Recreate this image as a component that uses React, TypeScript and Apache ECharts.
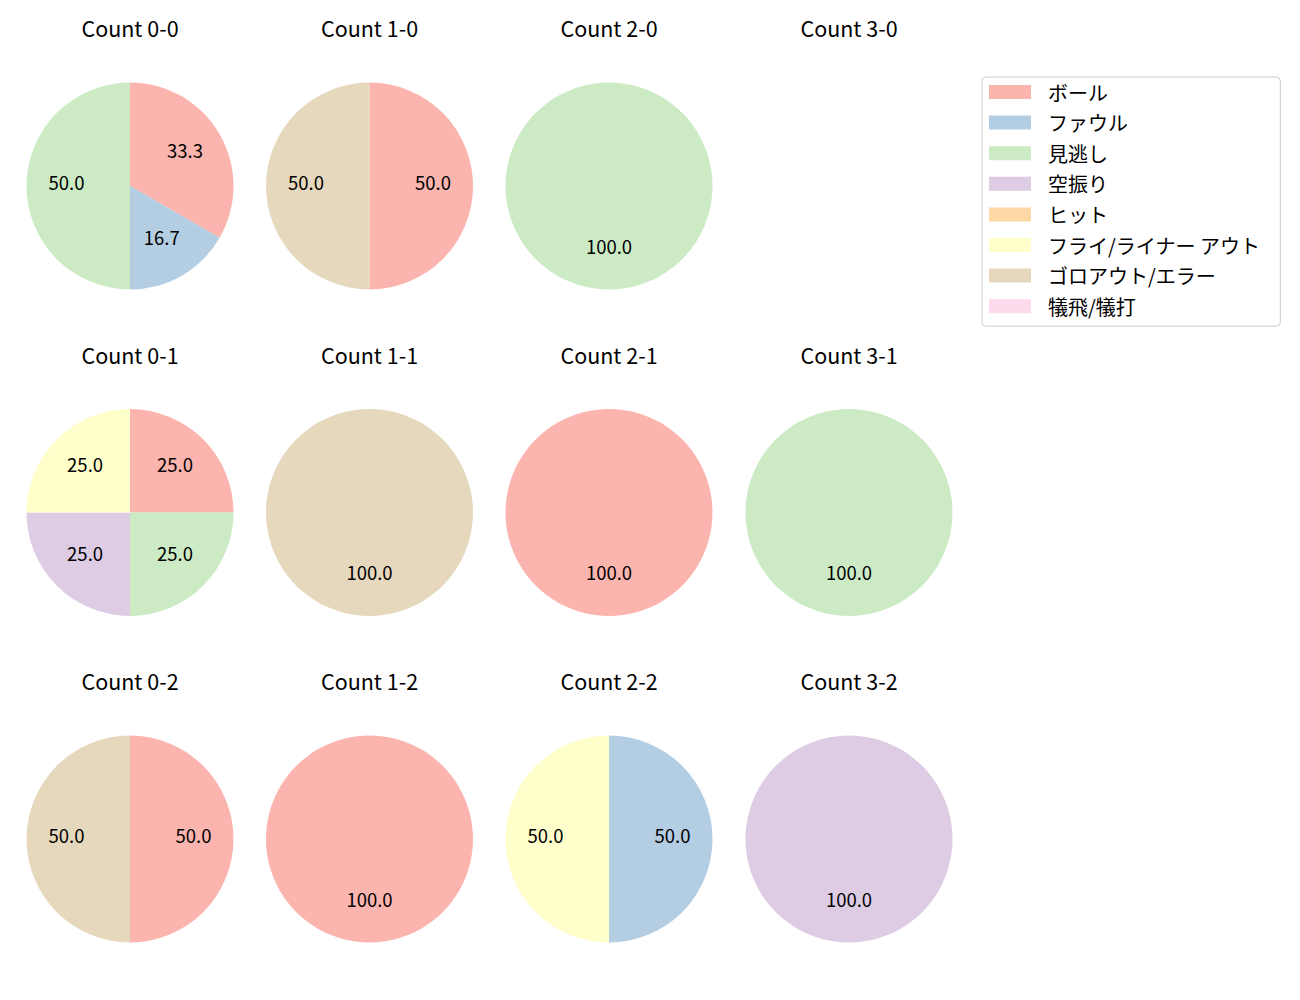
import React, { useEffect, useRef } from "react";
import * as echarts from "echarts";

const categories = [
  "ボール",
  "ファウル",
  "見逃し",
  "空振り",
  "ヒット",
  "フライ/ライナー アウト",
  "ゴロアウト/エラー",
  "犠飛/犠打",
];
const colors = ["#fbb4ae", "#b3cde3", "#ccebc5", "#decbe4", "#fed9a6", "#ffffcc", "#e5d8bd", "#fddaec"];

const titles = [
  "Count 0-0", "Count 1-0", "Count 2-0", "Count 3-0",
  "Count 0-1", "Count 1-1", "Count 2-1", "Count 3-1",
  "Count 0-2", "Count 1-2", "Count 2-2", "Count 3-2",
];

// counts per category, same order as categories
const count00 = [2, 1, 3, 0, 0, 0, 0, 0];
const count10 = [1, 0, 0, 0, 0, 0, 1, 0];
const count20 = [0, 0, 1, 0, 0, 0, 0, 0];
const count30 = [0, 0, 0, 0, 0, 0, 0, 0];
const count01 = [1, 0, 1, 1, 0, 1, 0, 0];
const count11 = [0, 0, 0, 0, 0, 0, 1, 0];
const count21 = [1, 0, 0, 0, 0, 0, 0, 0];
const count31 = [0, 0, 1, 0, 0, 0, 0, 0];
const count02 = [1, 0, 0, 0, 0, 0, 1, 0];
const count12 = [1, 0, 0, 0, 0, 0, 0, 0];
const count22 = [0, 1, 0, 0, 0, 1, 0, 0];
const count32 = [0, 0, 0, 1, 0, 0, 0, 0];

const allCounts = [
  count00, count10, count20, count30,
  count01, count11, count21, count31,
  count02, count12, count22, count32,
];

const FONT = "'Noto Sans CJK JP', 'Noto Sans', sans-serif";
const colX = [130, 369.5, 609, 849];
const rowY = [186, 512.5, 839];
const R = 103.5;
const LABEL_SHIFT = 4;

export default function App() {
  const ref = useRef<HTMLDivElement>(null);
  useEffect(() => {
    document.body.style.margin = "0";
    if (!ref.current) return;
    const chart = echarts.init(ref.current, undefined, { renderer: "svg" });

    const series: any[] = [];
    // dummy series for legend (all categories)
    series.push({
      type: "pie",
      name: "legend",
      radius: [0, 0],
      center: [-100, -100],
      silent: true,
      label: { show: false },
      labelLine: { show: false },
      data: categories.map((c, i) => ({ name: c, value: 1, itemStyle: { color: colors[i] } })),
    });

    const titleOpts: any[] = [];
    allCounts.forEach((counts, k) => {
      const cx = colX[k % 4];
      const cy = rowY[Math.floor(k / 4)];
      titleOpts.push({
        text: titles[k],
        left: cx,
        top: cy - 169,
        textAlign: "center",
        padding: 0,
        textStyle: { fontFamily: FONT, fontSize: 21.5, fontWeight: "normal", color: "#000" },
      });
      const data = counts
        .map((v, i) => ({ name: categories[i], value: v, itemStyle: { color: colors[i] } }))
        .filter((d) => d.value > 0);
      if (data.length === 0) return;
      series.push({
        type: "pie",
        center: [cx, cy],
        radius: [0, R],
        startAngle: 90,
        clockwise: true,
        silent: true,
        label: { show: false },
        labelLine: { show: false },
        itemStyle: { borderWidth: 0 },
        data,
      });
      series.push({
        type: "pie",
        center: [cx, cy - LABEL_SHIFT],
        radius: [0, R * 1.17],
        startAngle: 90,
        clockwise: true,
        silent: true,
        label: {
          show: true,
          position: "inside",
          fontFamily: FONT,
          fontSize: 18.5,
          color: "#000",
          formatter: (p: any) => p.percent.toFixed(1),
        },
        labelLine: { show: false },
        itemStyle: { color: "rgba(0,0,0,0)", borderWidth: 0 },
        emphasis: { disabled: true },
        data: data.map((d) => ({ name: d.name, value: d.value, itemStyle: { color: "rgba(0,0,0,0)" } })),
      });
    });

    chart.setOption({
      animation: false,
      title: titleOpts,
      legend: {
        orient: "vertical",
        left: 982,
        top: 77,
        data: categories,
        icon: "rect",
        itemWidth: 42,
        itemHeight: 14,
        itemGap: 10.6,
        padding: [5, 20, 10, 7],
        borderColor: "#cccccc",
        borderWidth: 1,
        borderRadius: 4,
        backgroundColor: "rgba(255,255,255,0.8)",
        textStyle: {
          fontFamily: FONT,
          fontSize: 20,
          color: "#000",
          padding: [0, 0, 0, 12],
          lineHeight: 20,
        },
      },
      series,
    });
    return () => chart.dispose();
  }, []);
  return <div ref={ref} style={{ width: 1300, height: 1000 }} />;
}
